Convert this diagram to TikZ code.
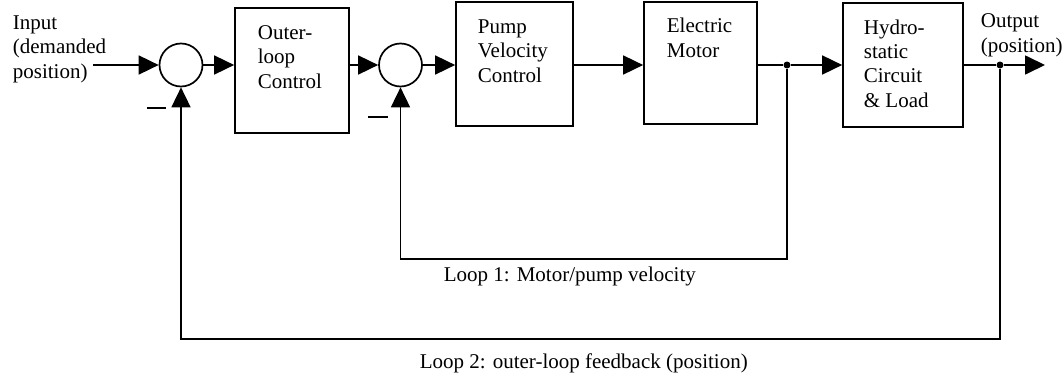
\documentclass[tikz,border=0pt]{standalone}
\usepackage{fontspec}
\setmainfont{Liberation Serif}
\usetikzlibrary{arrows.meta,calc}
\begin{document}
\begin{tikzpicture}[x=1pt,y=-1pt,
  line width=1.7pt,
  blk/.style={draw, rectangle, inner sep=0pt},
  sumc/.style={draw, circle, minimum size=43pt, inner sep=0pt},
  txt/.style={inner sep=0pt, anchor=base west, align=left, font=\fontsize{21}{24.3}\selectfont},
  arr/.style={-{Triangle[length=20pt,width=19pt]}},
  jdot/.style={circle, fill, inner sep=0pt, minimum size=7pt}]
\useasboundingbox (0,0) rectangle (1064,380);

% blocks
\node[blk, minimum width=114pt, minimum height=125pt] (outer) at (292,70.5) {};
\node[blk, minimum width=117pt, minimum height=124pt] (pump)  at (514.5,64) {};
\node[blk, minimum width=113pt, minimum height=122pt] (motor) at (700.5,63) {};
\node[blk, minimum width=120pt, minimum height=124pt] (hydro) at (903,65) {};

% summing junctions
\node[sumc] (s1) at (181,65) {};
\node[sumc] (s2) at (400.5,65) {};

% junction dots
\node[jdot] (j1) at (787,65) {};
\node[jdot] (j2) at (1000,65) {};

\coordinate (in) at (93,65);
\coordinate (out) at (1045,65);
\coordinate (l1) at (787,259);
\coordinate (l2) at (1000,339);

% texts (anchored at the baseline of the last line)
\node[txt] (tin) at (12,78) {Input\\(demanded\\position)};
\node[txt] (tout) at (980,52) {Output\\(position)};
\node[txt] (touter) at (257,88) {Outer-\\loop\\Control};
\node[txt] (tpump) at (477,82) {Pump\\Velocity\\Control};
\node[txt] (tmotor) at (666,57) {Electric\\Motor};
\node[txt] (thydro) at (863,107) {Hydro-\\static\\Circuit\\\& Load};
\node[txt] (tl1) at (443,281) {Loop 1: Motor/pump velocity};
\node[txt] (tl2) at (419,368) {Loop 2: outer-loop feedback (position)};

% minus signs
\draw (147,108) -- (166,108);
\draw (368,117) -- (388,117);

% forward path
\draw[arr] (in) -- (s1.west);
\draw[arr] (s1.east) -- (s1.east -| outer.west);
\draw[arr] (s2.west -| outer.east) -- (s2.west);
\draw[arr] (s2.east) -- (s2.east -| pump.west);
\draw[arr] (pump.east |- s2) -- (motor.west |- s2);
\draw (motor.east |- j1) -- (j1);
\draw[arr] (j1) -- (hydro.west |- j1);
\draw (hydro.east |- j2) -- (j2);
\draw[arr] (j2) -- (out);

% feedback loops
\draw[arr] (j1) -- (l1) -| (s2.south);
\draw[arr] (j2) -- (l2) -| (s1.south);
\end{tikzpicture}
\end{document}
